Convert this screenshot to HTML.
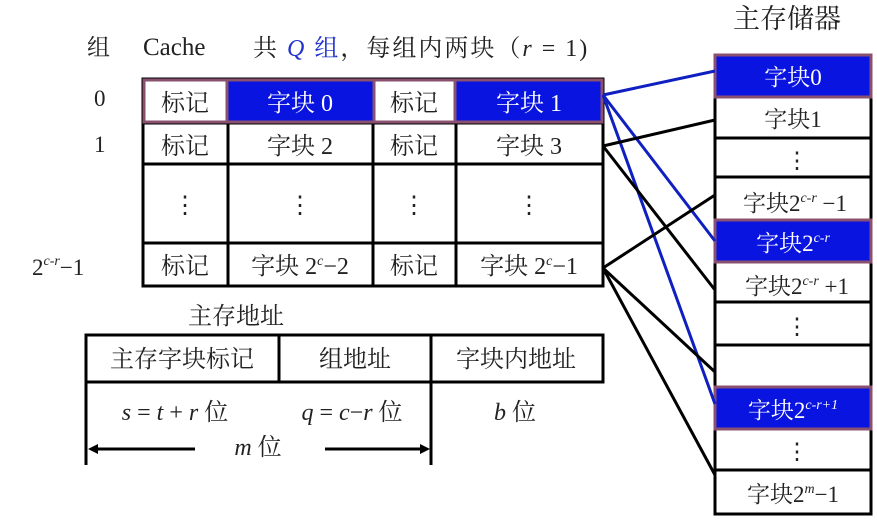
<!DOCTYPE html>
<html><head><meta charset="utf-8"><style>
html,body{margin:0;padding:0;background:#fff;}
svg{display:block;}
text{font-family:"Liberation Serif","Noto Serif CJK SC","Noto Sans CJK SC",serif;fill:#222;}
.w{fill:#fff;}
</style></head><body>
<svg width="877" height="528" viewBox="0 0 877 528" xmlns="http://www.w3.org/2000/svg">
<!-- title -->
<text x="87" y="55" font-size="23">组</text>
<text x="143" y="55" font-size="25">Cache</text>
<text x="253" y="56" font-size="24" letter-spacing="2">共 <tspan fill="#2233cc" font-style="italic">Q</tspan><tspan fill="#2233cc"> 组</tspan>，每组内两块（<tspan font-style="italic">r</tspan> = 1)</text>
<text x="733" y="28" font-size="27">主存储器</text>

<!-- row labels -->
<text x="94" y="106" font-size="23">0</text>
<text x="94" y="152" font-size="23">1</text>
<text x="32" y="275" font-size="23">2<tspan font-size="14" dy="-10" font-style="italic">c-r</tspan><tspan dy="10">−1</tspan></text>

<!-- cache table -->
<rect x="143" y="79" width="460" height="207" fill="#fff" stroke="#000" stroke-width="3"/>
<rect x="228" y="81" width="145" height="41" fill="#0a14e0"/>
<rect x="456" y="81" width="146" height="41" fill="#0a14e0"/>
<line x1="143" y1="123" x2="603" y2="123" stroke="#000" stroke-width="3"/>
<line x1="143" y1="164" x2="603" y2="164" stroke="#000" stroke-width="3"/>
<line x1="143" y1="243" x2="603" y2="243" stroke="#000" stroke-width="3"/>
<line x1="228" y1="123" x2="228" y2="286" stroke="#000" stroke-width="3"/>
<line x1="373" y1="123" x2="373" y2="286" stroke="#000" stroke-width="3"/>
<line x1="456" y1="123" x2="456" y2="286" stroke="#000" stroke-width="3"/>
<rect x="144" y="80" width="458" height="42" fill="none" stroke="#8a5070" stroke-width="3"/>
<line x1="227" y1="80" x2="227" y2="122" stroke="#8a5070" stroke-width="3"/>
<line x1="374" y1="80" x2="374" y2="122" stroke="#8a5070" stroke-width="3"/>
<line x1="455" y1="80" x2="455" y2="122" stroke="#8a5070" stroke-width="3"/>
<g font-size="24" text-anchor="middle">
<text x="185" y="111">标记</text><text x="300" y="111" class="w">字块 0</text><text x="414" y="111">标记</text><text x="529" y="111" class="w">字块 1</text>
<text x="185" y="154">标记</text><text x="300" y="154">字块 2</text><text x="414" y="154">标记</text><text x="529" y="154">字块 3</text>
<text x="185" y="213">⋮</text><text x="300" y="213">⋮</text><text x="414" y="213">⋮</text><text x="529" y="213">⋮</text>
<text x="185" y="274">标记</text><text x="300" y="274">字块 2<tspan font-size="14" dy="-9" font-style="italic">c</tspan><tspan dy="9">−2</tspan></text><text x="414" y="274">标记</text><text x="529" y="274">字块 2<tspan font-size="14" dy="-9" font-style="italic">c</tspan><tspan dy="9">−1</tspan></text>
</g>

<!-- main memory -->
<rect x="715" y="55" width="156" height="459" fill="#fff" stroke="#000" stroke-width="3"/>
<g stroke="#000" stroke-width="3">
<line x1="715" y1="138" x2="871" y2="138"/><line x1="715" y1="177" x2="871" y2="177"/>
<line x1="715" y1="302" x2="871" y2="302"/><line x1="715" y1="345" x2="871" y2="345"/>
<line x1="715" y1="470" x2="871" y2="470"/>
</g>
<g fill="#0a14e0" stroke="#8a5070" stroke-width="3">
<rect x="715" y="55" width="156" height="42"/>
<rect x="715" y="220" width="156" height="42"/>
<rect x="715" y="387" width="156" height="42"/>
</g>
<g font-size="23" text-anchor="middle">
<text x="793" y="85" class="w">字块0</text>
<text x="793" y="127">字块1</text>
<text x="797" y="168">⋮</text>
<text x="795" y="211">字块2<tspan font-size="14" dy="-9" font-style="italic">c-r</tspan><tspan dy="9"> −1</tspan></text>
<text x="793" y="251" class="w">字块2<tspan font-size="14" dy="-9" font-style="italic">c-r</tspan></text>
<text x="797" y="294">字块2<tspan font-size="14" dy="-9" font-style="italic">c-r</tspan><tspan dy="9"> +1</tspan></text>
<text x="797" y="334">⋮</text>
<text x="793" y="418" class="w">字块2<tspan font-size="14" dy="-9" font-style="italic">c-r+1</tspan></text>
<text x="797" y="459">⋮</text>
<text x="793" y="502">字块2<tspan font-size="14" dy="-9" font-style="italic">m</tspan><tspan dy="9">−1</tspan></text>
</g>

<!-- connectors -->
<g stroke-width="3" fill="none">
<line x1="603" y1="95" x2="715" y2="71" stroke="#1020c0"/>
<line x1="603" y1="95" x2="715" y2="241" stroke="#1020c0"/>
<line x1="603" y1="95" x2="715" y2="404" stroke="#1020c0"/>
<line x1="603" y1="146" x2="715" y2="120" stroke="#000"/>
<line x1="603" y1="146" x2="715" y2="290" stroke="#000"/>
<line x1="603" y1="268" x2="715" y2="195" stroke="#000"/>
<line x1="603" y1="268" x2="715" y2="372" stroke="#000"/>
<line x1="603" y1="268" x2="715" y2="475" stroke="#000"/>
</g>

<!-- address -->
<text x="188" y="324" font-size="24">主存地址</text>
<rect x="86" y="335" width="517" height="47" fill="none" stroke="#000" stroke-width="3"/>
<line x1="279" y1="335" x2="279" y2="382" stroke="#000" stroke-width="3"/>
<line x1="431" y1="335" x2="431" y2="465" stroke="#000" stroke-width="3"/>
<line x1="86" y1="382" x2="86" y2="465" stroke="#000" stroke-width="3"/>
<g font-size="24" text-anchor="middle">
<text x="182" y="367">主存字块标记</text>
<text x="355" y="367">组地址</text>
<text x="516" y="367">字块内地址</text>
<text x="175" y="420"><tspan font-style="italic">s</tspan> = <tspan font-style="italic">t</tspan> + <tspan font-style="italic">r</tspan>  位</text>
<text x="352" y="420"><tspan font-style="italic">q</tspan> = <tspan font-style="italic">c</tspan>−<tspan font-style="italic">r</tspan> 位</text>
<text x="515" y="420"><tspan font-style="italic">b</tspan> 位</text>
<text x="258" y="455"><tspan font-style="italic">m</tspan> 位</text>
</g>
<g stroke="#000" stroke-width="3">
<line x1="91" y1="449" x2="195" y2="449"/><line x1="325" y1="449" x2="426" y2="449"/>
</g>
<polygon points="88,449 98,444 98,454" fill="#000"/>
<polygon points="430,449 420,444 420,454" fill="#000"/>
</svg>
</body></html>
